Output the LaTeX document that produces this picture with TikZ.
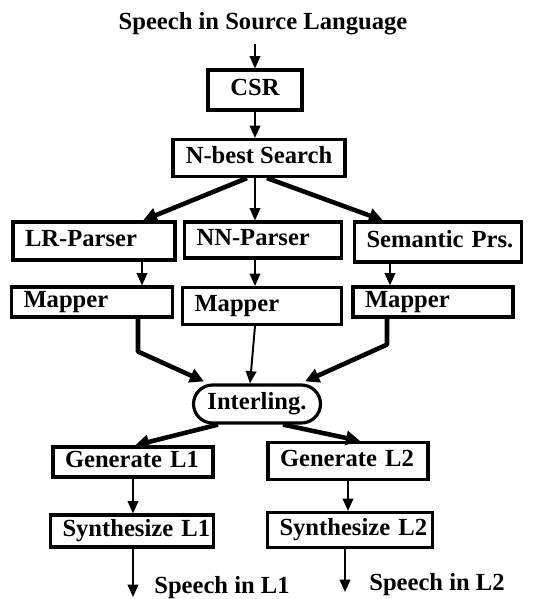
\documentclass[tikz,border=0pt]{standalone}
\usepackage{fontspec}
\setmainfont{Liberation Serif}
\usetikzlibrary{arrows.meta,calc}

\begin{document}
\begin{tikzpicture}[x=0.02cm,y=-0.02cm,
    boxfont/.style={font=\fontsize{14}{16}\selectfont\bfseries, text height=9.5pt, text depth=3pt},
    box/.style={draw, line width=1.8pt, inner xsep=0.24cm, inner ysep=0pt, boxfont,
        text width=#1, align=left, execute at begin node={\hyphenpenalty=10000 }},
    cbox/.style={draw, line width=1.8pt, inner sep=0pt, boxfont, minimum width=#1},
    flow/.style={line width=1.1pt, -{Triangle[length=7pt,width=6pt]}},
    bigflow/.style={line width=2.6pt, -{Triangle[length=8pt,width=8pt]}},
    speech/.style={font=\fontsize{14}{16}\selectfont\bfseries}]
    % Fix the page size
    \useasboundingbox (0,0) rectangle (536,599);

    % Draw the recognition chain
    \node[speech] (title) at (263,24) {Speech in Source Language};
    \node[cbox=1.88cm, minimum height=0.80cm] (csr) at (255,90) {CSR};
    \node[cbox=3.44cm, minimum height=0.74cm] (nbest) at (259,158) {N-best Search};

    % Draw the three parsers and their mappers
    \node[box=2.76cm, minimum height=0.76cm] (lrparser) at (94,241) {LR-Parser};
    \node[box=2.66cm, minimum height=0.72cm] (nnparser) at (263,240) {NN-Parser};
    \node[box=2.86cm, minimum height=0.80cm] (semparser) at (438,242) {Semantic~Prs.};
    \node[box=2.74cm, minimum height=0.60cm] (lrmapper) at (92,302) {Mapper};
    \node[box=2.70cm, minimum height=0.74cm] (nnmapper) at (262,306) {Mapper};
    \node[box=2.72cm, minimum height=0.60cm] (semmapper) at (433,302) {Mapper};

    % Draw the interlingua
    \node[cbox=2.54cm, rounded corners=0.38cm, minimum height=0.76cm]
        (interling) at (257,404) {Interling.};

    % Draw the generation chains
    \node[box=2.72cm, minimum height=0.60cm] (genone) at (133,462) {Generate~L1};
    \node[box=2.72cm, minimum height=0.74cm] (gentwo) at (348,461) {Generate~L2};
    \node[box=2.78cm, minimum height=0.64cm] (synone) at (132,531) {Synthesize~L1};
    \node[box=2.82cm, minimum height=0.70cm] (syntwo) at (350,530) {Synthesize~L2};
    \coordinate (outone) at (133,597);
    \coordinate (outtwo) at (345,592);
    \node[speech] (speechone) at (222,588) {Speech in L1};
    \node[speech] (speechtwo) at (437,585) {Speech in L2};

    % Draw the arrows
    \draw[flow] (csr.north |- title.south) ++(0,3) -- (csr.north);
    \draw[flow] (csr.south) -- (csr.south |- nbest.north);
    \draw[bigflow] ($(nbest.south)+(-12,0)$) -- ($(lrparser.north)+(49,0)$);
    \draw[flow] ($(nbest.south)+(-4,0)$) -- ($(nnparser.north)+(-8,0)$);
    \draw[bigflow] ($(nbest.south)+(8,0)$) -- ($(semparser.north)+(-55,0)$);
    \draw[flow] ($(lrparser.south)+(48,0)$) -- ($(lrmapper.north)+(50,0)$);
    \draw[flow] ($(nnparser.south)+(-8,0)$) -- ($(nnmapper.north)+(-7,0)$);
    \draw[flow] ($(semparser.south)+(-48,0)$) -- ($(semmapper.north)+(-43,0)$);
    \draw[bigflow, line join=round] ($(lrmapper.south)+(46,0)$) -- ++(0,33) -- ($(interling.north west)+(12,-2)$);
    \draw[flow] ($(nnmapper.south)+(-7,0)$) -- ($(interling.north)+(-7,0)$);
    \draw[bigflow, line join=round] ($(semmapper.south)+(-46,0)$) -- ++(0,26) -- ($(interling.north east)+(-17,-2)$);
    \draw[bigflow] ($(interling.south)+(-39,0)$) -- ($(genone.north)+(2,0)$);
    \draw[bigflow] ($(interling.south)+(26,0)$) -- ($(gentwo.north)+(12,0)$);
    \draw[flow] (genone.south) -- (genone.south |- synone.north);
    \draw[flow] (gentwo.south) -- (gentwo.south |- syntwo.north);
    \draw[flow] (synone.south -| outone) -- (outone);
    \draw[flow] (syntwo.south -| outtwo) -- (outtwo);
\end{tikzpicture}
\end{document}
